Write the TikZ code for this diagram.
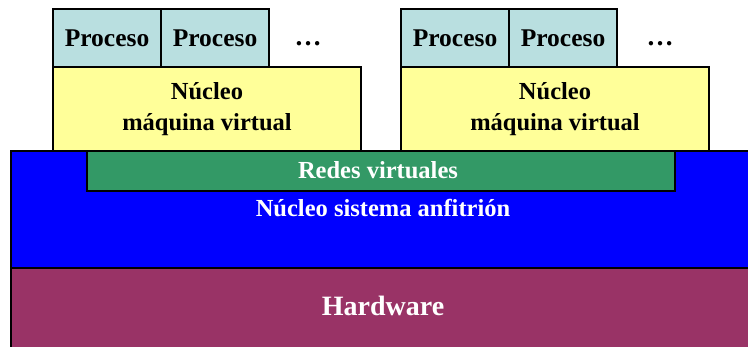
\documentclass[tikz,border=0pt]{standalone}
\usepackage{fontspec}
\setmainfont{Liberation Serif}
\definecolor{procfill}{RGB}{185,223,224}
\definecolor{kernfill}{RGB}{255,255,153}
\definecolor{netfill}{RGB}{51,153,102}
\definecolor{hostfill}{RGB}{0,0,255}
\definecolor{hwfill}{RGB}{153,51,102}
\tikzset{
  layer/.style={draw=black, line width=2pt, inner sep=0pt, anchor=north west},
  proc/.style={layer, fill=procfill, minimum width=108pt, minimum height=58pt,
    font=\fontsize{25.5}{30}\selectfont\bfseries},
  kern/.style={layer, fill=kernfill, minimum width=308pt, minimum height=84pt,
    align=center, font=\fontsize{24.5}{31}\selectfont\bfseries},
  lbl/.style={inner sep=0pt, text=white, font=\fontsize{24.5}{29}\selectfont\bfseries},
  dots/.style={inner sep=0pt, anchor=base, font=\fontsize{27}{30}\selectfont\bfseries}
}
\begin{document}
\begin{tikzpicture}[x=1pt,y=-1pt]
\useasboundingbox (0,0) rectangle (748,347);
\clip (0,0) rectangle (748,347);
% host kernel and hardware
\node[layer, fill=hostfill, minimum width=760pt, minimum height=117pt] (host) at (10,150) {};
\node[layer, fill=hwfill, minimum width=760pt, minimum height=100pt] (hw) at (10,267) {};
% virtual machine kernels
\node[kern] (k1) at (52,66) {Núcleo\\máquina virtual};
\node[kern] (k2) at (400,66) {Núcleo\\máquina virtual};
% processes
\node[proc] (p1) at (52,8) {Proceso};
\node[proc] (p2) at (160,8) {Proceso};
\node[dots] (d1) at (308,46) {…};
\node[proc] (p3) at (400,8) {Proceso};
\node[proc] (p4) at (508,8) {Proceso};
\node[dots] (d2) at (660,46) {…};
% virtual networks
\node[layer, fill=netfill, minimum width=588pt, minimum height=40pt] (net) at (86,150) {};
\node[lbl] (netl) at (378,170) {Redes virtuales};
\node[lbl] (hostl) at (383,208) {Núcleo sistema anfitrión};
\node[lbl, font=\fontsize{28}{34}\selectfont\bfseries] (hwl) at (383,306) {Hardware};
\end{tikzpicture}
\end{document}
